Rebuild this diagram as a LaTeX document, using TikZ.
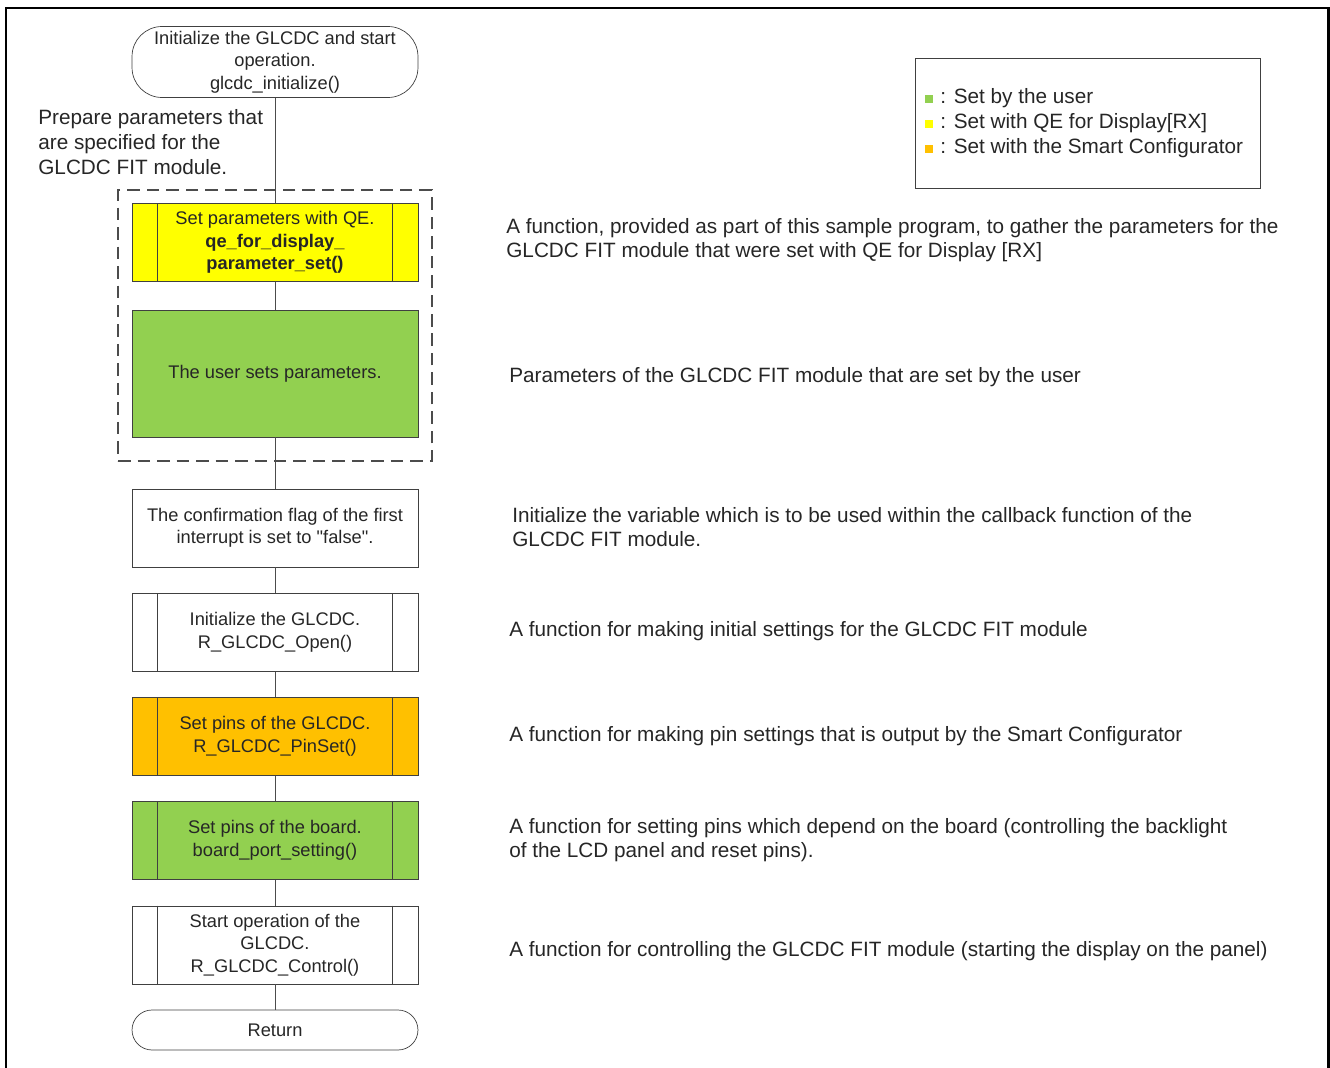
\documentclass[tikz,border=0pt]{standalone}
\usepackage{fontspec}
\setmainfont{Liberation Sans}
\definecolor{qeyellow}{HTML}{FFFF00}
\definecolor{usergreen}{HTML}{92D050}
\definecolor{scorange}{HTML}{FFC000}
\begin{document}
\begin{tikzpicture}[x=0.02cm, y=-0.02cm,
  every node/.style={font=\fontsize{10.4}{12.8}\selectfont, text=black!85},
  terminal/.style={rectangle, draw=black!75, rounded corners=0.6cm, minimum width=5.72cm, minimum height=1.42cm, align=center, inner sep=1pt},
  procbox/.style={rectangle, draw=black!75, minimum width=5.72cm, minimum height=1.56cm, align=center},
  groupbox/.style={rectangle, draw=black!70, line width=0.8pt, dash pattern=on 0.25cm off 0.14cm, minimum width=6.28cm, minimum height=5.42cm},
  marker/.style={rectangle, minimum size=0.16cm, inner sep=0pt},
  remark/.style={anchor=west, align=left, inner sep=0pt, font=\fontsize{11.8}{14}\selectfont}]
\useasboundingbox (0,0) rectangle (1330,1068);
\draw[line width=1.7pt] (6,1068) -- (6,8) -- (1328,8) -- (1328,1068);
\node[groupbox] (group) at (275,325.5) {};
\node[terminal] (start) at (275,62) {Initialize the GLCDC and start\\operation.\\glcdc\_initialize()};
\node[remark] (prep) at (38,142) {Prepare parameters that\\are specified for the\\GLCDC FIT module.};
\node[procbox, fill=qeyellow] (qe) at (275,242.5) {Set parameters with QE.\\\textbf{qe\_for\_display\_}\\\textbf{parameter\_set()}};
\node[procbox, fill=usergreen, minimum height=2.54cm] (user) at (275,373.5) {The user sets parameters.};
\node[procbox] (flag) at (275,528) {The confirmation flag of the first\\interrupt is set to \textquotedbl false\textquotedbl.};
\node[procbox] (open) at (275,632.5) {Initialize the GLCDC.\\R\_GLCDC\_Open()};
\node[procbox, fill=scorange] (pins) at (275,736.5) {Set pins of the GLCDC.\\R\_GLCDC\_PinSet()};
\node[procbox, fill=usergreen] (board) at (275,840.5) {Set pins of the board.\\board\_port\_setting()};
\node[procbox] (ctrl) at (275,945) {Start operation of the\\GLCDC.\\R\_GLCDC\_Control()};
\node[terminal, minimum height=0.8cm, rounded corners=0.4cm] (ret) at (275,1030) {Return};
\foreach \n in {qe,open,pins,board,ctrl} {
  \draw[black!75] ([xshift=0.52cm]\n.north west) -- ([xshift=0.52cm]\n.south west);
  \draw[black!75] ([xshift=-0.52cm]\n.north east) -- ([xshift=-0.52cm]\n.south east);
}
\draw[-, black!70] (start) -- (qe);
\draw[-, black!70] (qe) -- (user);
\draw[-, black!70] (user) -- (flag);
\draw[-, black!70] (flag) -- (open);
\draw[-, black!70] (open) -- (pins);
\draw[-, black!70] (pins) -- (board);
\draw[-, black!70] (board) -- (ctrl);
\draw[-, black!70] (ctrl) -- (ret);
% legend
\node[draw=black!75, minimum width=6.9cm, minimum height=2.6cm] (legend) at (1087.5,123) {};
\node[marker, fill=usergreen] (mkuser) at (929,99) {};
\node[marker, fill=qeyellow] (mkqe) at (929,124) {};
\node[marker, fill=scorange] (mksc) at (929,149) {};
\node[remark] (lguser) at (940,98) {: Set by the user};
\node[remark] (lgqe) at (940,123) {: Set with QE for Display[RX]};
\node[remark] (lgsc) at (940,148) {: Set with the Smart Configurator};
% remarks
\node[remark] (rqe) at (506,240) {A function, provided as part of this sample program, to gather the parameters for the\\GLCDC FIT module that were set with QE for Display [RX]};
\node[remark] (ruser) at (509,377) {Parameters of the GLCDC FIT module that are set by the user};
\node[remark] (rflag) at (512,527) {Initialize the variable which is to be used within the callback function of the\\GLCDC FIT module.};
\node[remark] (ropen) at (509,631) {A function for making initial settings for the GLCDC FIT module};
\node[remark] (rpins) at (509,736) {A function for making pin settings that is output by the Smart Configurator};
\node[remark] (rboard) at (509,840) {A function for setting pins which depend on the board (controlling the backlight\\of the LCD panel and reset pins).};
\node[remark] (rctrl) at (509,951) {A function for controlling the GLCDC FIT module (starting the display on the panel)};
\end{tikzpicture}
\end{document}
